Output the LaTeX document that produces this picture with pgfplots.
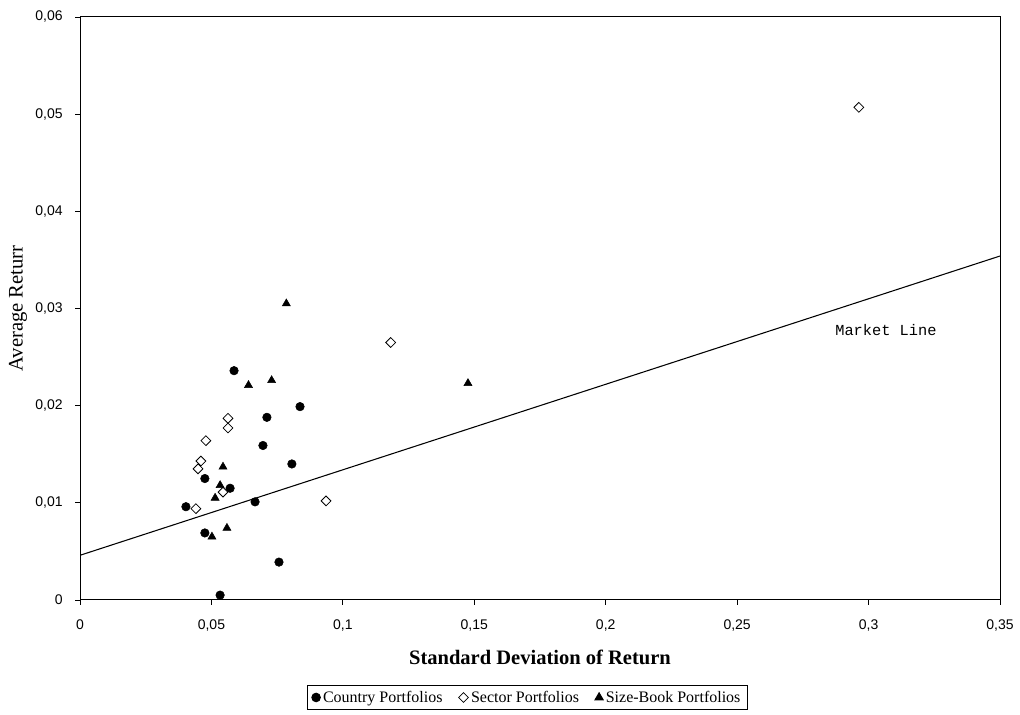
\documentclass[border=0pt]{standalone}
\usepackage{fontspec}
\setmainfont{Liberation Serif}
\newfontfamily\arialfont{Liberation Sans}
\newfontfamily\courierfont{Liberation Mono}
\usepackage{pgfplots}
\pgfplotsset{compat=1.18}
\usetikzlibrary{calc}

\begin{document}
\begin{tikzpicture}
\begin{axis}[
    scale only axis,
    width=690pt, height=437.25pt,
    xmin=0, xmax=0.35, ymin=0, ymax=0.06,
    xtick={0,0.05,0.1,0.15,0.2,0.25,0.3,0.35},
    ytick={0,0.01,0.02,0.03,0.04,0.05,0.06},
    xtick pos=bottom, ytick pos=left,
    scaled x ticks=false, scaled y ticks=false,
    tick align=outside, major tick length=3.5pt,
    tick style={black, line width=0.6pt},
    axis line style={black, line width=0.75pt},
    ticklabel style={font=\arialfont\fontsize{10.5}{12}\selectfont},
    xticklabel style={yshift=-8pt},
    yticklabel style={xshift=-6pt},
    /pgf/number format/.cd, fixed, use comma, precision=2, assume math mode=true,
    /pgfplots/.cd,
    xlabel={\textbf{Standard Deviation of Return}},
    xlabel style={font=\fontsize{15.4}{18}\selectfont,
        at={(axis description cs:0.5,-0.0978)}, anchor=center},
    ylabel={Average Returr},
    ylabel style={font=\fontsize{15.5}{18}\selectfont,
        at={(axis description cs:-0.0674,0.5)}, anchor=center},
    legend style={at={(axis description cs:0.4864,-0.1672)}, anchor=center,
        legend columns=3, draw=black, line width=0.75pt,
        font=\fontsize{12}{14}\selectfont,
        /tikz/every even column/.append style={column sep=10pt}},
    legend cell align=left,
]
\coordinate (sw) at (rel axis cs:0,0);
\coordinate (ne) at (rel axis cs:1,1);

% market line
\addplot[black, line width=0.8pt, forget plot] coordinates {(0,0.0046) (0.35,0.0354)};

% country portfolios
\addplot[only marks, mark=*, mark size=3.2pt, black] coordinates {
    (0.0403,0.0096) (0.0475,0.0125) (0.0475,0.0069) (0.0533,0.0005)
    (0.0571,0.0115) (0.0586,0.0236) (0.0666,0.0101) (0.0696,0.0159)
    (0.0711,0.0188) (0.0757,0.0039) (0.0806,0.0140) (0.0837,0.0199)
};
% sector portfolios
\addplot[only marks, mark=square*, mark size=2.6pt,
    mark options={rotate=45, draw=black, fill=white, line width=0.6pt}] coordinates {
    (0.0441,0.0094) (0.0449,0.0135) (0.0460,0.0143) (0.0479,0.0164)
    (0.0544,0.0111) (0.0563,0.0177) (0.0563,0.0187) (0.0936,0.0102)
    (0.1182,0.0265) (0.2963,0.0507)
};
% size-book portfolios
\addplot[only marks, mark=triangle*, mark size=3.5pt, black] coordinates {
    (0.0785,0.0305) (0.0641,0.0221) (0.0729,0.0226) (0.1476,0.0223)
    (0.0544,0.0137) (0.0533,0.0118) (0.0514,0.0105) (0.0559,0.0074)
    (0.0502,0.0065)
};
\legend{Country Portfolios, Sector Portfolios, Size-Book Portfolios}

\node[font=\courierfont\fontsize{11.5}{13}\selectfont] at (axis cs:0.3066,0.0278) {Market Line};
\end{axis}
\pgfresetboundingbox
\path[use as bounding box] ($(sw)+(-60pt,-86.25pt)$) rectangle ($(ne)+(15pt,12.75pt)$);
\end{tikzpicture}
\end{document}
